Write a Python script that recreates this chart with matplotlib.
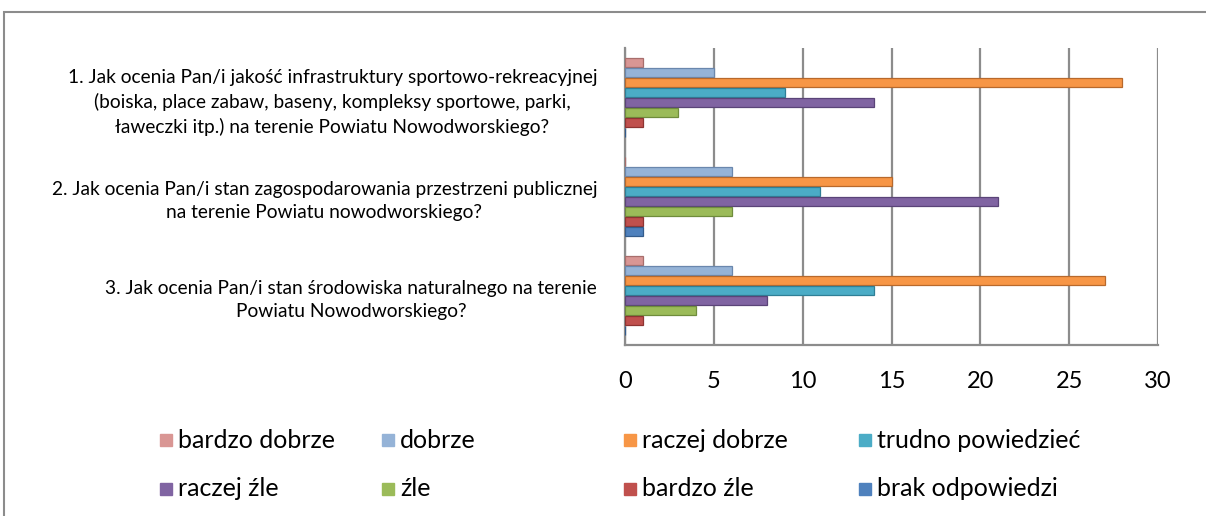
import matplotlib.pyplot as plt
import numpy as np
from matplotlib.patches import Rectangle

plt.rcParams['font.family'] = ['Lato', 'DejaVu Sans']

# questions (top to bottom)
questions = [
    "1. Jak ocenia Pan/i jakość infrastruktury sportowo-rekreacyjnej\n"
    "(boiska, place zabaw, baseny, kompleksy sportowe, parki,\n"
    "ławeczki itp.) na terenie Powiatu Nowodworskiego?",
    "2. Jak ocenia Pan/i stan zagospodarowania przestrzeni publicznej\n"
    "na terenie Powiatu nowodworskiego?",
    "3. Jak ocenia Pan/i stan środowiska naturalnego na terenie\n"
    "Powiatu Nowodworskiego?",
]

answers = ["bardzo dobrze", "dobrze", "raczej dobrze", "trudno powiedzieć",
           "raczej źle", "źle", "bardzo źle", "brak odpowiedzi"]

# counts per answer, one value per question
bardzo_dobrze = [1, 0, 1]
dobrze = [5, 6, 6]
raczej_dobrze = [28, 15, 27]
trudno = [9, 11, 14]
raczej_zle = [14, 21, 8]
zle = [3, 6, 4]
bardzo_zle = [1, 1, 1]
brak = [0, 1, 0]
series = [bardzo_dobrze, dobrze, raczej_dobrze, trudno,
          raczej_zle, zle, bardzo_zle, brak]

colors = ['#D99694', '#95B3D7', '#F79646', '#4BACC6',
          '#8064A2', '#9BBB59', '#C0504D', '#4F81BD']
edges = ['#A86E6C', '#6A87AD', '#B8692C', '#2F7F96',
         '#5A4478', '#6F8C3C', '#8E3432', '#345C8C']

f = plt.figure(figsize=(12.06, 5.16), dpi=100)
W, H = 1206, 516
ax = f.add_axes([625 / W, 1 - 345 / H, 533 / W, 297 / H])

y = np.arange(len(questions))
h = 0.1
for i, vals in enumerate(series):
    off = (i - 3.5) * h
    ax.barh(y + off, vals, height=h * 0.92, color=colors[i],
            edgecolor=edges[i], linewidth=0.9, zorder=3)

ax.set_xlim(0, 30)
ax.set_ylim(2.5, -0.5)
ax.set_xticks(range(0, 31, 5))
ax.set_yticks(y)
ax.set_yticklabels(questions, multialignment='center', fontsize=13.8,
                   linespacing=1.45)
ax.tick_params(axis='y', length=0, pad=20)
ax.tick_params(axis='x', length=0, pad=19, labelsize=17)
ax.grid(axis='x', color='#8C8C8C', linewidth=1.6, zorder=0)
for s in ['top', 'right']:
    ax.spines[s].set_visible(False)
for s in ['left', 'bottom']:
    ax.spines[s].set_color('#8C8C8C')
    ax.spines[s].set_linewidth(1.6)

# legend, 2 rows x 4 columns
col_x = [160, 382, 624, 859]
row_y = [440, 489]
for i, name in enumerate(answers):
    cx = col_x[i % 4]
    cy = row_y[i // 4]
    f.add_artist(Rectangle((cx / W, 1 - (cy + 6) / H), 12 / W, 12 / H,
                           transform=f.transFigure, color=colors[i]))
    f.text((cx + 18) / W, 1 - cy / H, name, fontsize=18, va='center', ha='left')

# chart frame
f.add_artist(Rectangle((4 / W, -0.1), 1.2, 1.1 - 12 / H, transform=f.transFigure,
                       fill=False, edgecolor='#8C8C8C', linewidth=1.5))

f.savefig("out.png", dpi=100)
